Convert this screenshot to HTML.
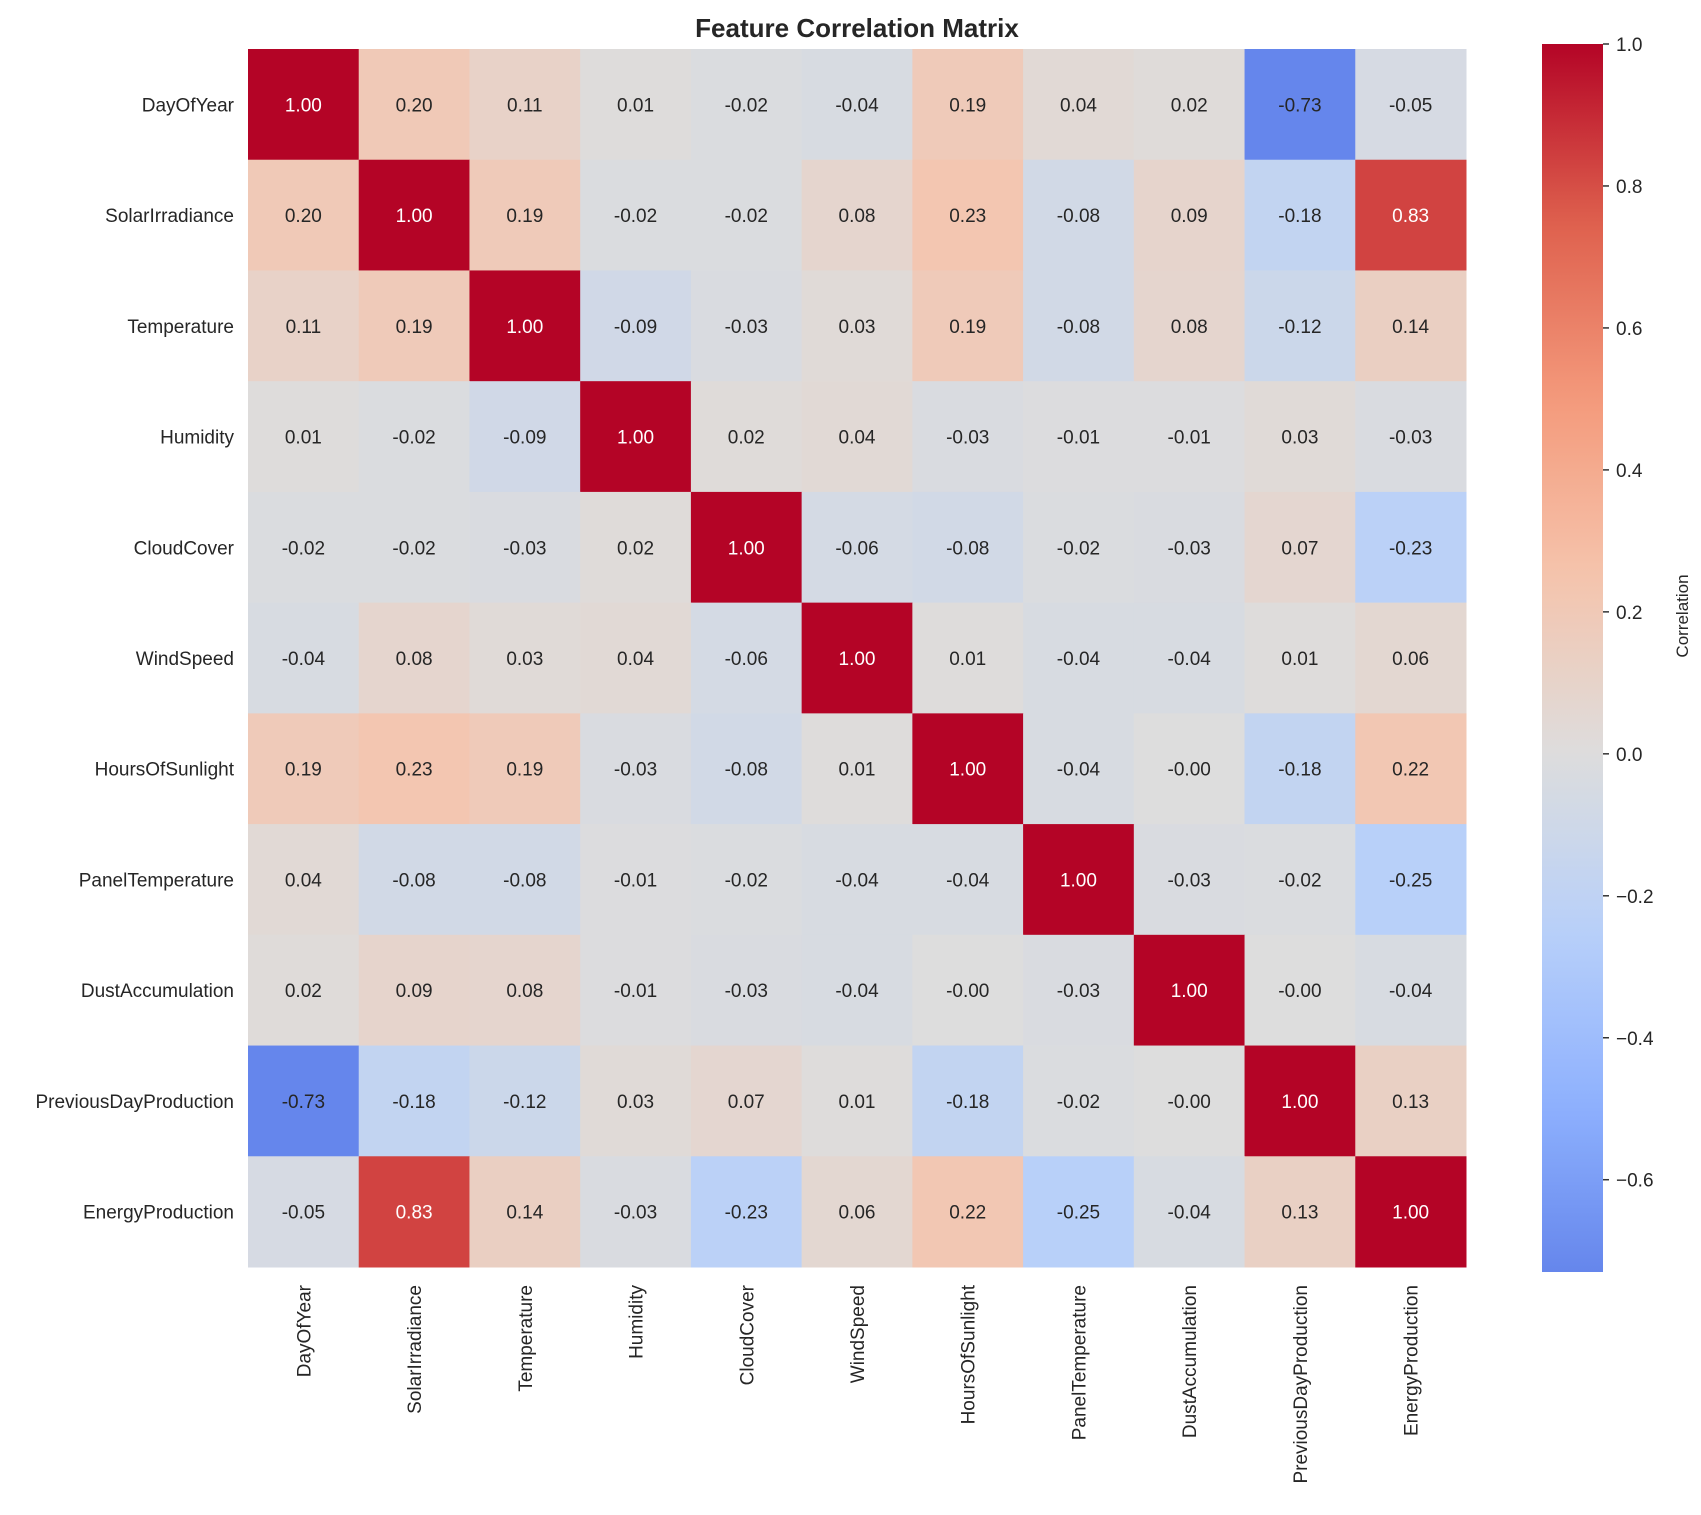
<!DOCTYPE html>
<html><head><meta charset="utf-8"><style>
body{margin:0;background:#fff;}
svg{display:block;font-family:"Liberation Sans",Arial,sans-serif;}
</style></head><body>
<svg id="chart" width="1701" height="1515" viewBox="0 0 1701 1515">
<text x="857" y="37" text-anchor="middle" font-size="26" font-weight="bold" fill="#262626">Feature Correlation Matrix</text>
<g id="cells"></g>
<g id="ylabels"></g>
<g id="xlabels"></g>
<defs><linearGradient id="cbgrad" x1="0" y1="1" x2="0" y2="0"></linearGradient></defs>
<rect id="cbar"></rect>
<g id="cbticks"></g>
<text x="1688" y="616" transform="rotate(-90 1688 616)" text-anchor="middle" font-size="17" fill="#262626">Correlation</text>
</svg>
<script>
const labels = ["DayOfYear","SolarIrradiance","Temperature","Humidity","CloudCover","WindSpeed","HoursOfSunlight","PanelTemperature","DustAccumulation","PreviousDayProduction","EnergyProduction"];
const row0 = [1.00,0.20,0.11,0.01,-0.02,-0.04,0.19,0.04,0.02,-0.73,-0.05];
const row1 = [0.20,1.00,0.19,-0.02,-0.02,0.08,0.23,-0.08,0.09,-0.18,0.83];
const row2 = [0.11,0.19,1.00,-0.09,-0.03,0.03,0.19,-0.08,0.08,-0.12,0.14];
const row3 = [0.01,-0.02,-0.09,1.00,0.02,0.04,-0.03,-0.01,-0.01,0.03,-0.03];
const row4 = [-0.02,-0.02,-0.03,0.02,1.00,-0.06,-0.08,-0.02,-0.03,0.07,-0.23];
const row5 = [-0.04,0.08,0.03,0.04,-0.06,1.00,0.01,-0.04,-0.04,0.01,0.06];
const row6 = [0.19,0.23,0.19,-0.03,-0.08,0.01,1.00,-0.04,-0.00,-0.18,0.22];
const row7 = [0.04,-0.08,-0.08,-0.01,-0.02,-0.04,-0.04,1.00,-0.03,-0.02,-0.25];
const row8 = [0.02,0.09,0.08,-0.01,-0.03,-0.04,-0.00,-0.03,1.00,-0.00,-0.04];
const row9 = [-0.73,-0.18,-0.12,0.03,0.07,0.01,-0.18,-0.02,-0.00,1.00,0.13];
const row10 = [-0.05,0.83,0.14,-0.03,-0.23,0.06,0.22,-0.25,-0.04,0.13,1.00];
const matrix = [row0,row1,row2,row3,row4,row5,row6,row7,row8,row9,row10];
const cbTicks = [1.0,0.8,0.6,0.4,0.2,0.0,-0.2,-0.4,-0.6];
const vmin = -0.73, vmax = 1.0;

const NS="http://www.w3.org/2000/svg";
const X0=248, Y0=49, W=1218, H=1218;
const n=labels.length, cw=W/n, ch=H/n;
const xPos=i=>X0+i*cw, yPos=i=>Y0+i*ch;
const stops=[[0,[58,76,192]],[0.125,[98,130,234]],[0.25,[141,176,254]],[0.375,[184,208,249]],[0.5,[221,221,221]],[0.625,[245,196,173]],[0.75,[244,154,123]],[0.875,[222,96,77]],[1,[180,4,38]]];
function cmap(v){let t=(v+1)/2;t=Math.max(0,Math.min(1,t));
 for(let k=1;k<stops.length;k++){if(t<=stops[k][0]){const a=stops[k-1],b=stops[k];const f=(t-a[0])/(b[0]-a[0]);
  return a[1].map((c,j)=>Math.round(c+(b[1][j]-c)*f));}}return stops[8][1];}
function mk(tag,attrs){const e=document.createElementNS(NS,tag);for(const k in attrs)e.setAttribute(k,attrs[k]);return e;}
const cells=document.getElementById('cells');
matrix.forEach((row,r)=>row.forEach((v,c)=>{
 const col=cmap(v);
 const rect=mk('rect',{x:xPos(c),y:yPos(r),width:cw+0.5,height:ch+0.5,fill:`rgb(${col})`});
 
 
 cells.appendChild(rect);
 const lum=(0.2126*col[0]+0.7152*col[1]+0.0722*col[2])/255;
 const t=mk('text',{x:xPos(c)+cw/2,y:yPos(r)+ch/2+7,'text-anchor':'middle','font-size':19,fill:lum>0.45?'#262626':'#ffffff'});
 t.textContent=(v<0||Object.is(v,-0)?'-':'')+Math.abs(v).toFixed(2);
 
 
 cells.appendChild(t);
}));
// fix -0.00 display
matrix.forEach(()=>{});
const yl=document.getElementById('ylabels'), xl=document.getElementById('xlabels');
labels.forEach((l,i)=>{
 const t=mk('text',{x:X0-14,y:yPos(i)+ch/2+7,'text-anchor':'end','font-size':19,fill:'#262626'});
 t.textContent=l;
 
 
 yl.appendChild(t);
 const x=xPos(i)+cw/2+7, y=Y0+H+18;
 const u=mk('text',{x:x,y:y,'text-anchor':'end','font-size':19,fill:'#262626',transform:`rotate(-90 ${x} ${y})`});
 u.textContent=l;
 
 
 xl.appendChild(u);
});
// colorbar
const CB={x:1542,y:44,w:61,h:1228};
const cbY=v=>CB.y+(vmax-v)/(vmax-vmin)*CB.h;
const grad=document.getElementById('cbgrad');
for(let k=0;k<=40;k++){const v=vmin+(vmax-vmin)*k/40;grad.appendChild(mk('stop',{offset:k/40,'stop-color':`rgb(${cmap(v)})`}));}
const cb=document.getElementById('cbar');
cb.setAttribute('x',CB.x);cb.setAttribute('y',CB.y);cb.setAttribute('width',CB.w);cb.setAttribute('height',CB.h);cb.setAttribute('fill','url(#cbgrad)');
const tg=document.getElementById('cbticks');
cbTicks.forEach(v=>{const y=cbY(v);
 const ln=mk('line',{x1:CB.x+CB.w,x2:CB.x+CB.w+6,y1:y,y2:y,stroke:'#333','stroke-width':1.5});
 
 
 tg.appendChild(ln);
 const t=mk('text',{x:CB.x+CB.w+13,y:y+7,'font-size':19,fill:'#262626'});
 t.textContent=(v<0?'\u2212':'')+Math.abs(v).toFixed(1);
 
 
 tg.appendChild(t);
});
</script>
</body></html>
